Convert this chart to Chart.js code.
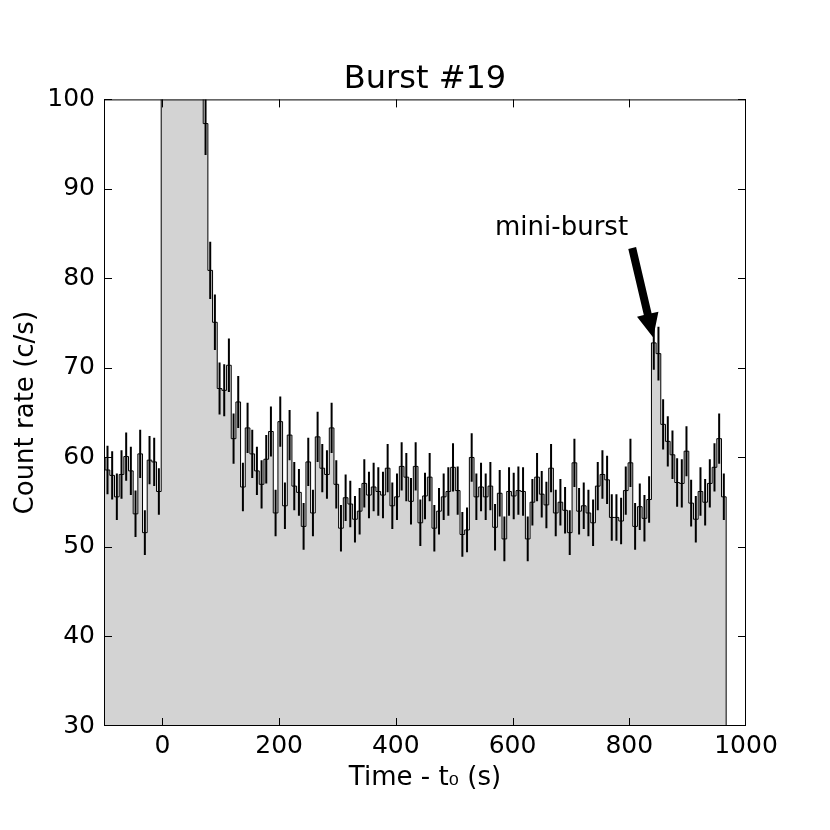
<!DOCTYPE html>
<html>
<head>
<meta charset="utf-8">
<script src="https://cdn.jsdelivr.net/npm/chart.js@4.4.1/dist/chart.umd.min.js"></script>
<style>
  html, body { margin: 0; padding: 0; background: #fff; }
  canvas { display: block; }
</style>
</head>
<body>
<canvas id="burstChart" width="830" height="830"></canvas>
<script>
// Light curve of burst #19, 8 s bins
const BIN_START = -106;
const BIN_WIDTH = 8;

// count rate (c/s) per bin
const preBurst = [60.0, 58.6, 58.0, 55.6, 58.1, 60.1, 58.5, 53.7, 60.4, 51.6, 59.7, 59.5, 56.2];
const burstPeak = [180, 230, 205, 170, 150, 135, 124, 114, 106]; // off scale
const decay = [97.3, 80.9, 75.1, 67.7, 67.5, 70.3, 62.1, 66.2, 56.7, 63.3, 60.4, 58.5, 57.0, 59.8,
  62.9, 53.8, 64.0, 54.6, 62.5, 56.8, 56.1, 52.3, 59.5];
const tail1 = [53.8, 62.3, 58.8, 58.1, 63.3, 57.0, 52.1, 55.5, 54.8, 53.1, 54.0, 57.1, 55.8, 56.7,
  56.2, 55.8, 58.8, 54.6, 55.6, 59.0, 57.8, 55.1, 59.0];
const tail2 = [52.7, 55.7, 57.8, 52.1, 54.0, 55.6, 56.2, 58.9, 56.3, 51.4, 51.9, 60.0, 55.6, 56.7,
  55.6, 56.8, 52.2, 56.0, 50.9, 56.2, 55.7, 56.3];
const tail3 = [56.2, 50.9, 55.0, 57.8, 55.9, 54.7, 58.8, 53.8, 55.0, 54.1, 51.6, 59.4, 54.0, 54.6,
  53.8, 52.7, 56.8, 58.1, 57.5, 53.3, 53.3, 52.9, 56.3];
const miniBurst = [59.4, 52.3, 54.5, 53.2, 55.3, 72.8, 71.6, 63.7, 61.8, 60.3, 57.2, 57.1, 60.7,
  54.9, 53.1, 56.2, 55.0, 57.1, 58.9, 62.1, 55.6];

// 1-sigma errors, same order
const preBurstErr = [2.7, 2.7, 2.7, 2.6, 2.7, 2.7, 2.7, 2.6, 2.7, 2.5, 2.7, 2.7, 2.6];
const burstPeakErr = [4.7, 5.4, 5.1, 4.6, 4.3, 4.1, 3.9, 3.8, 3.6];
const decayErr = [3.5, 3.2, 3.1, 2.9, 2.9, 3.0, 2.8, 2.9, 2.7, 2.8, 2.7, 2.7, 2.7, 2.7,
  2.8, 2.6, 2.8, 2.6, 2.8, 2.7, 2.6, 2.6, 2.7];
const tail1Err = [2.6, 2.8, 2.7, 2.7, 2.8, 2.7, 2.6, 2.6, 2.6, 2.6, 2.6, 2.7, 2.6, 2.7,
  2.7, 2.6, 2.7, 2.6, 2.6, 2.7, 2.7, 2.6, 2.7];
const tail2Err = [2.6, 2.6, 2.7, 2.6, 2.6, 2.6, 2.7, 2.7, 2.7, 2.5, 2.5, 2.7, 2.6, 2.7,
  2.6, 2.7, 2.6, 2.6, 2.5, 2.7, 2.6, 2.7];
const tail3Err = [2.7, 2.5, 2.6, 2.7, 2.6, 2.6, 2.7, 2.6, 2.6, 2.6, 2.5, 2.7, 2.6, 2.6,
  2.6, 2.6, 2.7, 2.7, 2.7, 2.6, 2.6, 2.6, 2.7];
const miniBurstErr = [2.7, 2.6, 2.6, 2.6, 2.6, 3.0, 3.0, 2.8, 2.8, 2.7, 2.7, 2.7, 2.8,
  2.6, 2.6, 2.7, 2.6, 2.7, 2.7, 2.8, 2.6];

const rates = [...preBurst, ...burstPeak, ...decay, ...tail1, ...tail2, ...tail3, ...miniBurst];
const rateErrors = [...preBurstErr, ...burstPeakErr, ...decayErr, ...tail1Err, ...tail2Err,
  ...tail3Err, ...miniBurstErr];

const xTicks = [0, 200, 400, 600, 800, 1000];
const yTicks = [30, 40, 50, 60, 70, 80, 90, 100];

// annotation, in data units
const noteText = "mini-burst";
const notePos = { x: 684, y: 84.8 };
const arrowTail = { x: 805, y: 83.4 };
const arrowTip = { x: 841, y: 73.4 };

// step outline: left edge of every bin, then close at the last edge
const stepPoints = rates.map((v, i) => ({ x: BIN_START + i * BIN_WIDTH, y: v }));
const lastEdge = BIN_START + rates.length * BIN_WIDTH;
stepPoints.push({ x: lastEdge, y: rates[rates.length - 1] });
stepPoints.push({ x: lastEdge, y: 0 });

const FONT = "'DejaVu Sans', 'Liberation Sans', sans-serif";
Chart.defaults.font.family = FONT;
Chart.defaults.color = "#000";

// error bars, frame with inward ticks, arrow and label
const extras = {
  id: "extras",
  afterDatasetsDraw(chart) {
    const { ctx, chartArea: a, scales: { x, y } } = chart;
    ctx.save();
    ctx.beginPath();
    ctx.rect(a.left, a.top, a.width, a.height);
    ctx.clip();
    ctx.strokeStyle = "#000";
    ctx.lineWidth = 2;
    rates.forEach((v, i) => {
      const cx = x.getPixelForValue(BIN_START + (i + 0.5) * BIN_WIDTH);
      ctx.beginPath();
      ctx.moveTo(cx, y.getPixelForValue(v - rateErrors[i]));
      ctx.lineTo(cx, y.getPixelForValue(v + rateErrors[i]));
      ctx.stroke();
    });
    ctx.restore();

    ctx.save();
    ctx.strokeStyle = "#000";
    ctx.lineWidth = 1;
    ctx.strokeRect(a.left + 0.5, a.top + 0.5, a.width - 1, a.height - 1);
    const tl = 8;
    ctx.beginPath();
    xTicks.forEach(t => {
      const px = Math.min(Math.round(x.getPixelForValue(t)) + 0.5, a.right - 0.5);
      ctx.moveTo(px, a.bottom); ctx.lineTo(px, a.bottom - tl);
      ctx.moveTo(px, a.top); ctx.lineTo(px, a.top + tl);
    });
    yTicks.forEach(t => {
      const py = Math.min(Math.round(y.getPixelForValue(t)) + 0.5, a.bottom - 0.5);
      ctx.moveTo(a.left, py); ctx.lineTo(a.left + tl, py);
      ctx.moveTo(a.right, py); ctx.lineTo(a.right - tl, py);
    });
    ctx.stroke();

    // arrow
    const x0 = x.getPixelForValue(arrowTail.x), y0 = y.getPixelForValue(arrowTail.y);
    const x1 = x.getPixelForValue(arrowTip.x), y1 = y.getPixelForValue(arrowTip.y);
    const len = Math.hypot(x1 - x0, y1 - y0);
    const ux = (x1 - x0) / len, uy = (y1 - y0) / len;
    const nx = -uy, ny = ux;
    const w = 4, hw = 11, hl = 24;
    const bx = x1 - ux * hl, by = y1 - uy * hl;
    ctx.fillStyle = "#000";
    ctx.beginPath();
    ctx.moveTo(x0 + nx * w, y0 + ny * w);
    ctx.lineTo(bx + nx * w, by + ny * w);
    ctx.lineTo(bx + nx * hw, by + ny * hw);
    ctx.lineTo(x1, y1);
    ctx.lineTo(bx - nx * hw, by - ny * hw);
    ctx.lineTo(bx - nx * w, by - ny * w);
    ctx.lineTo(x0 - nx * w, y0 - ny * w);
    ctx.closePath();
    ctx.fill();

    ctx.font = "26px " + FONT;
    ctx.textAlign = "center";
    ctx.textBaseline = "alphabetic";
    ctx.fillText(noteText, x.getPixelForValue(notePos.x), y.getPixelForValue(notePos.y));
    ctx.restore();
  }
};

new Chart(document.getElementById("burstChart"), {
  type: "line",
  data: {
    datasets: [{
      data: stepPoints,
      stepped: true,
      fill: "start",
      backgroundColor: "#d3d3d3",
      borderColor: "#000",
      borderWidth: 1,
      pointRadius: 0,
      clip: 0,
    }],
  },
  options: {
    responsive: false,
    animation: false,
    layout: { padding: { right: 84 } },
    plugins: {
      legend: { display: false },
      tooltip: { enabled: false },
      title: {
        display: true,
        text: "Burst #19",
        fullSize: false,
        font: { size: 32, weight: "normal" },
        padding: { top: 60, bottom: 1 },
      },
    },
    scales: {
      x: {
        type: "linear",
        min: -100,
        max: 1000,
        grid: { display: false, drawTicks: false },
        border: { display: false },
        afterBuildTicks: s => { s.ticks = xTicks.map(v => ({ value: v })); },
        afterFit: s => { s.height = 104; s.paddingLeft = 0; s.paddingRight = 0; },
        ticks: { font: { size: 25 }, padding: 5, maxRotation: 0, autoSkip: false, callback: v => String(v) },
        title: { display: true, text: "Time - t₀ (s)", font: { size: 26 }, padding: { top: 0, bottom: 36 } },
      },
      y: {
        min: 30,
        max: 100,
        grid: { display: false, drawTicks: false },
        border: { display: false },
        afterBuildTicks: s => { s.ticks = yTicks.map(v => ({ value: v })); },
        afterFit: s => { s.width = 104; s.paddingTop = 0; s.paddingBottom = 0; },
        ticks: { font: { size: 25 }, padding: 9, autoSkip: false, callback: v => String(v) },
        title: { display: true, text: "Count rate (c/s)", font: { size: 26 }, padding: { top: 11, bottom: 0 } },
      },
    },
  },
  plugins: [extras],
});
</script>
</body>
</html>
